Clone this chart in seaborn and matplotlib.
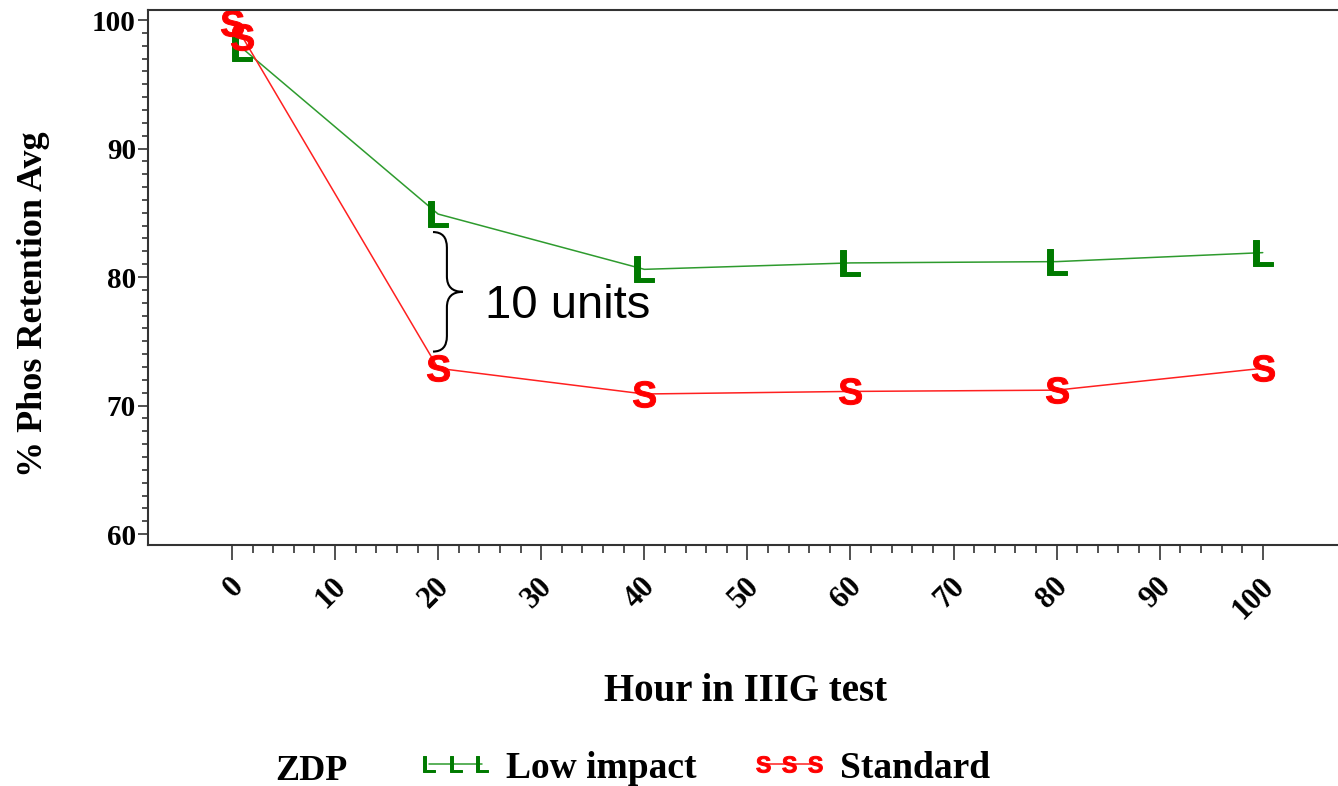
import pandas as pd
import matplotlib
matplotlib.use('Agg')
from matplotlib import pyplot as plt
from matplotlib.path import Path
from matplotlib.patches import PathPatch
from matplotlib.ticker import MultipleLocator, FixedLocator
from matplotlib.transforms import ScaledTranslation
import seaborn as sns

# values
groups = ['Low impact', 'Standard']
hours_low = [1, 20, 40, 60, 80, 100]
retention_low = [97.8, 84.9, 80.6, 81.1, 81.2, 81.9]
hours_std = [0, 1, 20, 40, 60, 80, 100]
retention_std = [99.8, 98.7, 72.9, 70.9, 71.1, 71.2, 72.9]
x_ticks = [0, 10, 20, 30, 40, 50, 60, 70, 80, 90, 100]
x_minor = [h for h in range(2, 100, 2) if h % 10]
y_ticks = [60, 70, 80, 90, 100]

data = pd.concat([
    pd.DataFrame({'Hour': hours_low, 'Retention': retention_low, 'ZDP': groups[0]}),
    pd.DataFrame({'Hour': hours_std, 'Retention': retention_std, 'ZDP': groups[1]}),
], ignore_index=True)

sns.set_style('ticks')
plt.rcParams['font.family'] = ['Liberation Serif', 'DejaVu Serif']
plt.rcParams['font.weight'] = 'bold'
plt.rcParams['axes.labelweight'] = 'bold'
plt.rcParams['text.color'] = 'black'
plt.rcParams['axes.labelcolor'] = 'black'
plt.rcParams['xtick.color'] = 'black'
plt.rcParams['ytick.color'] = 'black'
plt.rcParams['mathtext.fontset'] = 'custom'
plt.rcParams['mathtext.it'] = 'Liberation Sans:bold'
plt.rcParams['mathtext.rm'] = 'Liberation Sans:bold'
plt.rcParams['mathtext.bf'] = 'Liberation Sans:bold'

fig = plt.figure(figsize=(13.38, 7.86), dpi=100)
ax = fig.add_axes([0.1106, 0.3066, 0.8894, 0.6807])

line_colors = {'Low impact': '#2e9b2e', 'Standard': '#ff2020'}
mark_colors = {'Low impact': '#007a00', 'Standard': '#ff0000'}
sns.lineplot(data=data, x='Hour', y='Retention', hue='ZDP', style='ZDP',
             hue_order=groups, style_order=groups, palette=line_colors,
             markers={'Low impact': '$L$', 'Standard': '$S$'}, dashes=False,
             estimator=None, sort=True, linewidth=1.1, markersize=19,
             legend=False, ax=ax)
for line, g in zip(ax.lines, groups):
    line.set_markerfacecolor(mark_colors[g])
    line.set_markeredgecolor(mark_colors[g])
    line.set_markeredgewidth(0.7)

ax.set_xlim(-8.15, 107.3)
ax.set_ylim(59.15, 100.78)
ax.set_xticks(x_ticks)
ax.set_xticklabels([str(t) for t in x_ticks], rotation=45, ha='right', va='center',
                   rotation_mode='anchor', fontsize=22)
ax.xaxis.set_minor_locator(FixedLocator(x_minor))
ax.set_yticks(y_ticks)
ax.set_yticklabels([str(t) for t in y_ticks], fontsize=21)
ax.yaxis.set_minor_locator(MultipleLocator(1))
ax.tick_params(axis='x', which='major', length=10.8, width=1.1, pad=16, color='#222222')
ax.tick_params(axis='x', which='minor', length=5.8, width=1.1, color='#222222')
ax.tick_params(axis='y', which='major', length=7.2, width=1.1, pad=1.5, color='#222222')
ax.tick_params(axis='y', which='minor', length=4.3, width=1.1, color='#222222')
for side in ['left', 'bottom', 'top']:
    ax.spines[side].set_linewidth(1.5)
    ax.spines[side].set_color('#333333')
ax.spines['right'].set_visible(False)
shift = ScaledTranslation(7 / 100, 0, fig.dpi_scale_trans)
for lbl in ax.get_xticklabels():
    lbl.set_transform(lbl.get_transform() + shift)

ax.set_xlabel('Hour in IIIG test', fontsize=28)
ax.xaxis.set_label_coords(0.5017, -0.24)
ax.set_ylabel('% Phos Retention Avg', fontsize=26)
ax.yaxis.set_label_coords(-0.082, 0.45)

# curly brace between the two series at hour 20
top = retention_low[1] - 1.4
bot = retention_std[2] + 1.3
mid = (top + bot) / 2
x0, xm, x1 = 19.5, 20.85, 22.4
r = 1.2
verts = [(x0, top), (xm, top), (xm, top - r),
         (xm, mid + r), (xm, mid), (x1, mid),
         (xm, mid), (xm, mid - r),
         (xm, bot + r), (xm, bot), (x0, bot)]
codes = [Path.MOVETO, Path.CURVE3, Path.CURVE3,
         Path.LINETO, Path.CURVE3, Path.CURVE3,
         Path.CURVE3, Path.CURVE3,
         Path.LINETO, Path.CURVE3, Path.CURVE3]
ax.add_patch(PathPatch(Path(verts, codes), fill=False, lw=1.5, color='black'))
ax.text(24.5, 76.8, '10 units', fontsize=34, family='Liberation Sans',
        fontweight='normal', ha='left', va='baseline')

# legend row at the bottom
fig.text(275 / 1338, 0.0076, 'ZDP', fontsize=26, ha='left', va='baseline')
fig.legend(handles=ax.lines, labels=groups, loc='center left',
           bbox_to_anchor=(418 / 1338, 0.0229), ncol=2, numpoints=3,
           frameon=False, markerscale=0.62, handlelength=2.0, handletextpad=0.36,
           columnspacing=1.45, borderpad=0, borderaxespad=0,
           prop={'family': 'Liberation Serif', 'weight': 'bold', 'size': 27})

fig.savefig('out.png', dpi=100)
plt.close()
